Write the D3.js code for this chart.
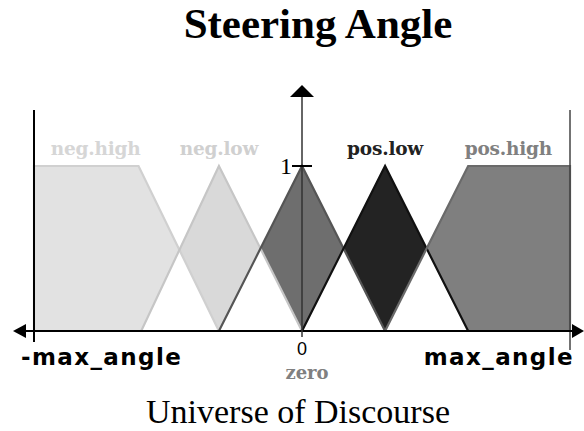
<!DOCTYPE html>
<html>
<head>
<meta charset="utf-8">
<script src="https://cdn.jsdelivr.net/npm/d3@7"></script>
<style>
  body { margin: 0; background: #fff; }
  svg { display: block; }
</style>
</head>
<body>
<svg></svg>
<script>
const width = 584;
const height = 431;

// fuzzy sets over the steering angle (-1 = -max_angle, 1 = max_angle)
const setNames = ["neg.high", "neg.low", "zero", "pos.low", "pos.high"];
const negHigh = [[-1, 0], [-1, 1], [-0.61, 1], [-0.31, 0]];
const negLow = [[-0.6, 0], [-0.31, 1], [0, 0]];
const zero = [[-0.31, 0], [0, 1], [0.31, 0]];
const posLow = [[0, 0], [0.31, 1], [0.62, 0]];
const posHigh = [[0.31, 0], [0.62, 1], [1, 1], [1, 0]];
const labelX = [-0.77, -0.31, 0, 0.31, 0.77];

const shapes = [negHigh, negLow, zero, posLow, posHigh];
const fills = ["#e2e2e2", "#d9d9d9", "#6e6e6e", "#232323", "#7f7f7f"];
const edges = ["#d0d0d0", "#c6c6c6", "#555555", "#111111", "#6a6a6a"];
const labelColors = ["#d6d6d6", "#d0d0d0", "#808080", "#222222", "#808080"];

const svg = d3.select("svg")
  .attr("width", width)
  .attr("height", height);

const x = d3.scaleLinear().domain([-1, 1]).range([34, 570]);
const y = d3.scaleLinear().domain([0, 1]).range([331, 166]);

const line = d3.line()
  .x(function(d) { return x(d[0]); })
  .y(function(d) { return y(d[1]); });

function closed(d) { return line(d) + "Z"; }

const defs = svg.append("defs");
shapes.forEach(function(s, i) {
  defs.append("clipPath")
    .attr("id", "clip-" + i)
    .append("path")
    .attr("d", closed(s));
});

// fills
svg.selectAll("path.set")
  .data(shapes)
  .join("path")
  .attr("class", "set")
  .attr("d", closed)
  .attr("fill", function(d, i) { return fills[i]; });

// overlaps of neighbouring sets drawn white (xor look)
svg.selectAll("path.overlap")
  .data(shapes.slice(1))
  .join("path")
  .attr("class", "overlap")
  .attr("d", closed)
  .attr("clip-path", function(d, i) { return "url(#clip-" + i + ")"; })
  .attr("fill", "#fff");

// edges
svg.selectAll("path.edge")
  .data(shapes)
  .join("path")
  .attr("class", "edge")
  .attr("d", line)
  .attr("fill", "none")
  .attr("stroke", function(d, i) { return edges[i]; })
  .attr("stroke-width", 2.2);

// set labels
svg.selectAll("text.label")
  .data(setNames)
  .join("text")
  .attr("class", "label")
  .attr("x", function(d, i) { return x(labelX[i]); })
  .attr("y", 155)
  .attr("text-anchor", "middle")
  .attr("font-family", "DejaVu Serif")
  .attr("font-weight", "bold")
  .attr("font-size", 18.5)
  .attr("letter-spacing", -0.2)
  .attr("fill", function(d, i) { return labelColors[i]; })
  .text(function(d) { return d === "zero" ? "" : d; });

// frame lines at the ends of the universe
svg.append("line")
  .attr("x1", x(-1)).attr("x2", x(-1))
  .attr("y1", 110).attr("y2", 342)
  .attr("stroke", "#000").attr("stroke-width", 2);

svg.append("line")
  .attr("x1", x(1)).attr("x2", x(1))
  .attr("y1", 110).attr("y2", 350)
  .attr("stroke", "#444").attr("stroke-width", 1.5);

// horizontal axis with arrows
const axisY = y(0);
svg.append("line")
  .attr("x1", 24).attr("x2", 574)
  .attr("y1", axisY).attr("y2", axisY)
  .attr("stroke", "#000").attr("stroke-width", 2);

svg.append("path")
  .attr("d", `M13,${axisY}L26,${axisY - 7}L26,${axisY + 7}Z`)
  .attr("fill", "#000");

svg.append("path")
  .attr("d", `M584,${axisY}L572,${axisY - 7}L572,${axisY + 7}Z`)
  .attr("fill", "#000");

// vertical axis with arrow
svg.append("line")
  .attr("x1", x(0)).attr("x2", x(0))
  .attr("y1", 96).attr("y2", axisY + 6)
  .attr("stroke", "#333").attr("stroke-width", 1.5);

svg.append("path")
  .attr("d", `M${x(0)},85L${x(0) + 12},97L${x(0) - 12},97Z`)
  .attr("fill", "#000");

svg.append("line")
  .attr("x1", x(0) - 10).attr("x2", x(0) + 10)
  .attr("y1", y(1)).attr("y2", y(1))
  .attr("stroke", "#000").attr("stroke-width", 2);

svg.append("text")
  .attr("x", x(0) - 10)
  .attr("y", 174)
  .attr("text-anchor", "end")
  .attr("font-family", "Liberation Serif")
  .attr("font-size", 24)
  .text("1");

// x axis labels
svg.append("text")
  .attr("x", 21)
  .attr("y", 365)
  .attr("font-family", "DejaVu Sans")
  .attr("font-weight", "bold")
  .attr("font-size", 23)
  .attr("letter-spacing", 1.4)
  .text("-max_angle");

svg.append("text")
  .attr("x", 574)
  .attr("y", 365)
  .attr("text-anchor", "end")
  .attr("font-family", "DejaVu Sans")
  .attr("font-weight", "bold")
  .attr("font-size", 23)
  .attr("letter-spacing", 1.4)
  .text("max_angle");

svg.append("text")
  .attr("x", x(0))
  .attr("y", 355)
  .attr("text-anchor", "middle")
  .attr("font-family", "Liberation Sans Narrow, Liberation Sans")
  .attr("font-size", 18)
  .text("0");

svg.append("text")
  .attr("x", x(0) + 5)
  .attr("y", 379)
  .attr("text-anchor", "middle")
  .attr("font-family", "DejaVu Serif")
  .attr("font-weight", "bold")
  .attr("font-size", 18)
  .attr("fill", labelColors[2])
  .text(setNames[2]);

// titles
svg.append("text")
  .attr("x", 318)
  .attr("y", 38)
  .attr("text-anchor", "middle")
  .attr("font-family", "Liberation Serif")
  .attr("font-weight", "bold")
  .attr("font-size", 43)
  .text("Steering Angle");

svg.append("text")
  .attr("x", 298)
  .attr("y", 423)
  .attr("text-anchor", "middle")
  .attr("font-family", "Liberation Serif")
  .attr("font-size", 34)
  .text("Universe of Discourse");
</script>
</body>
</html>
